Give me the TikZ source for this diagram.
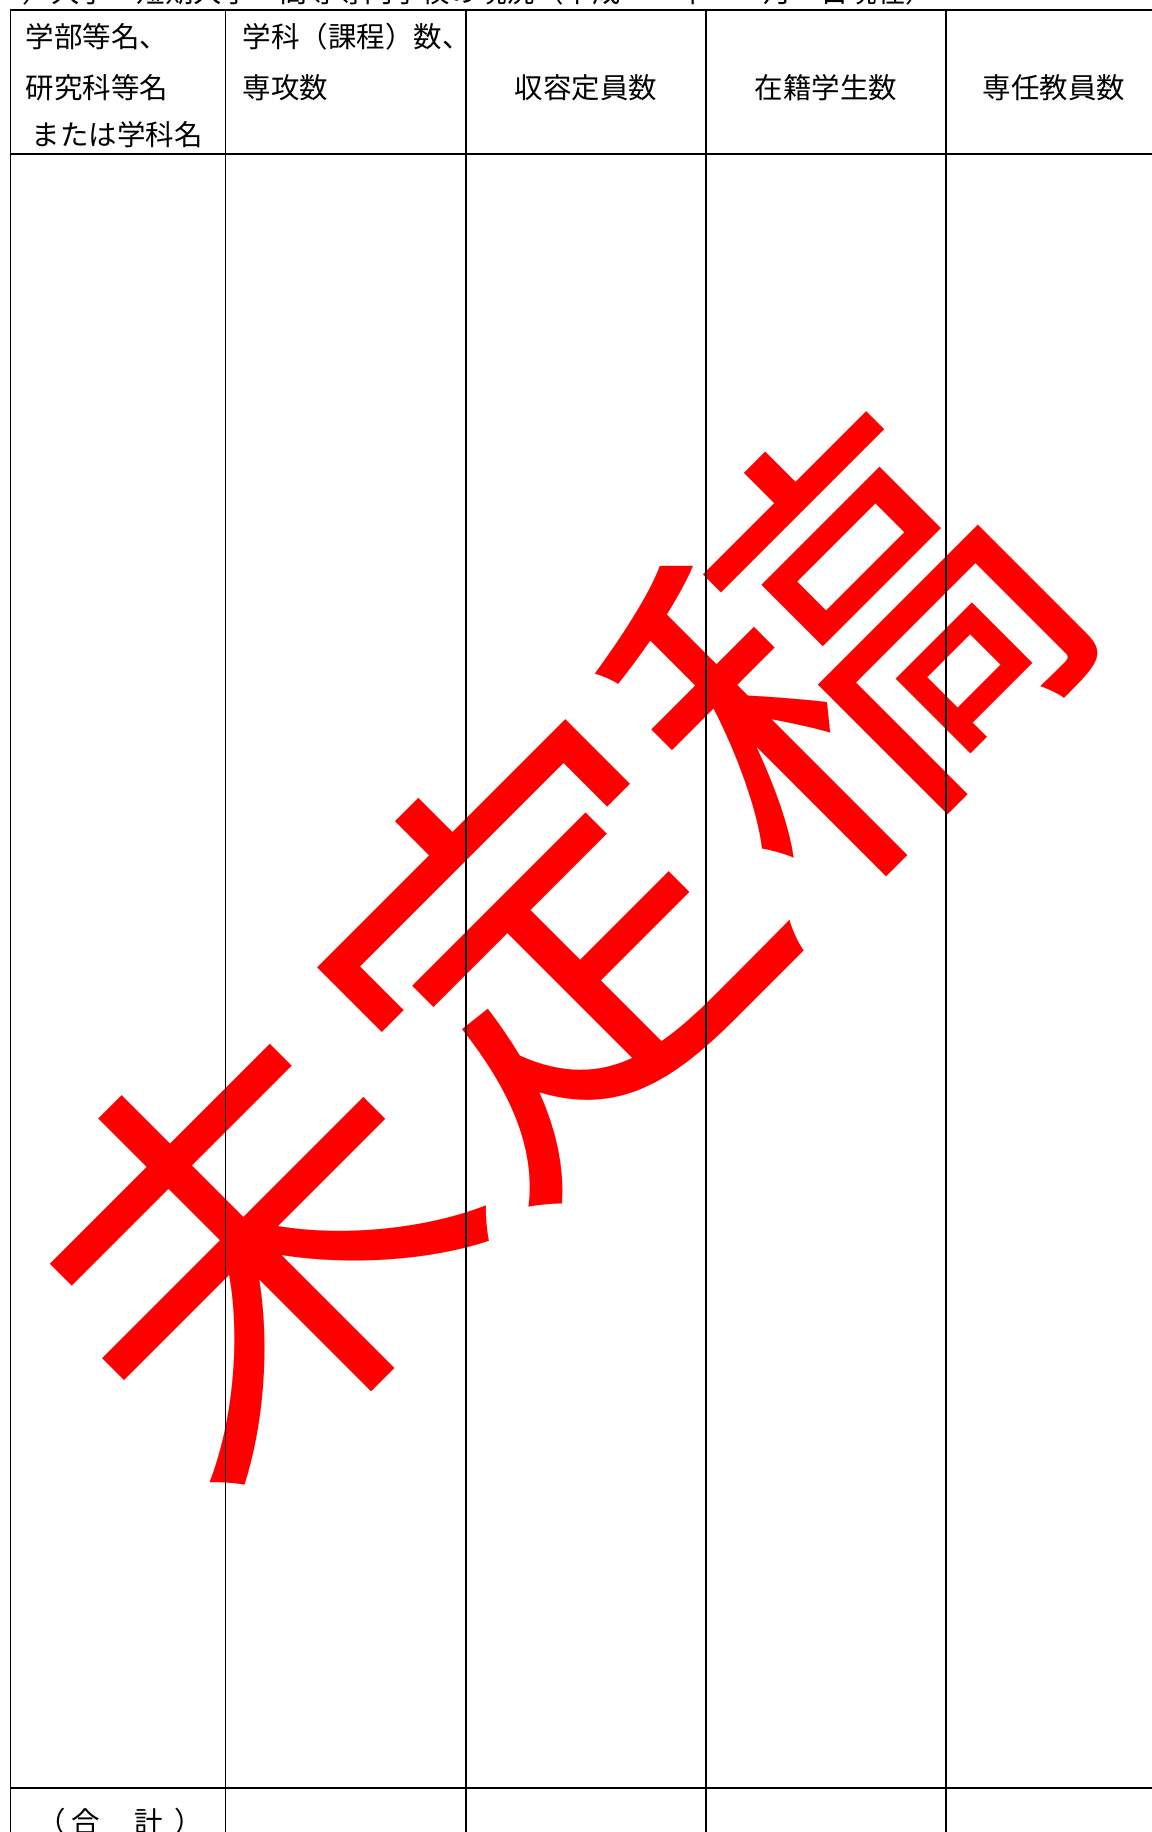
\documentclass[tikz,border=0pt]{standalone}
\usepackage{fontspec}
\newfontfamily\jpfont{Noto Sans CJK JP}
\tikzset{every scope/.style={line width=0.55pt}}
\tikzset{cell/.style={font=\jpfont\fontsize{8.1}{8.1}\selectfont,inner sep=0pt},
  stamp/.style={font=\jpfont\fontsize{119.5}{119.5}\selectfont,text=red,rotate=45,inner sep=0pt}}

\begin{document}
\begin{tikzpicture}
  \useasboundingbox (0,0) rectangle (11.52,-18.32);
  \clip (0,0) rectangle (11.52,-18.32);
  % watermark first, rules go over it
  \node[stamp] (mark) at (5.45,-9.47) {未定稿};
  \node[cell,anchor=base west] (title) at (0.22,-0.025) {）大学・短期大学・高等専門学校の現況（平成　　年　　月　日現在）};
  % table rules
  \draw (0.105,-0.10) -- (11.6,-0.10);
  \draw (0.105,-1.54) -- (11.6,-1.54);
  \draw (0.105,-17.88) -- (11.6,-17.88);
  \foreach \x in {0.105,2.255,4.66,7.06,9.46}
    \draw (\x,-0.10) -- (\x,-18.4);
  % header cells
  \node[cell,anchor=base west] (h1a) at (0.25,-0.47) {学部等名、};
  \node[cell,anchor=base west] (h1b) at (0.25,-0.98) {研究科等名};
  \node[cell,anchor=base west] (h1c) at (0.31,-1.45) {または学科名};
  \node[cell,anchor=base west] (h2a) at (2.42,-0.47) {学科（課程）数、};
  \node[cell,anchor=base west] (h2b) at (2.42,-0.98) {専攻数};
  \node[cell,anchor=base] (h3) at (5.86,-0.98) {収容定員数};
  \node[cell,anchor=base] (h4) at (8.26,-0.98) {在籍学生数};
  \node[cell,anchor=base] (h5) at (10.54,-0.98) {専任教員数};
  \node[cell,anchor=base] (total) at (1.20,-18.32) {（\kern1.7pt 合\kern1.7pt　計\kern3.3pt ）};
\end{tikzpicture}
\end{document}
